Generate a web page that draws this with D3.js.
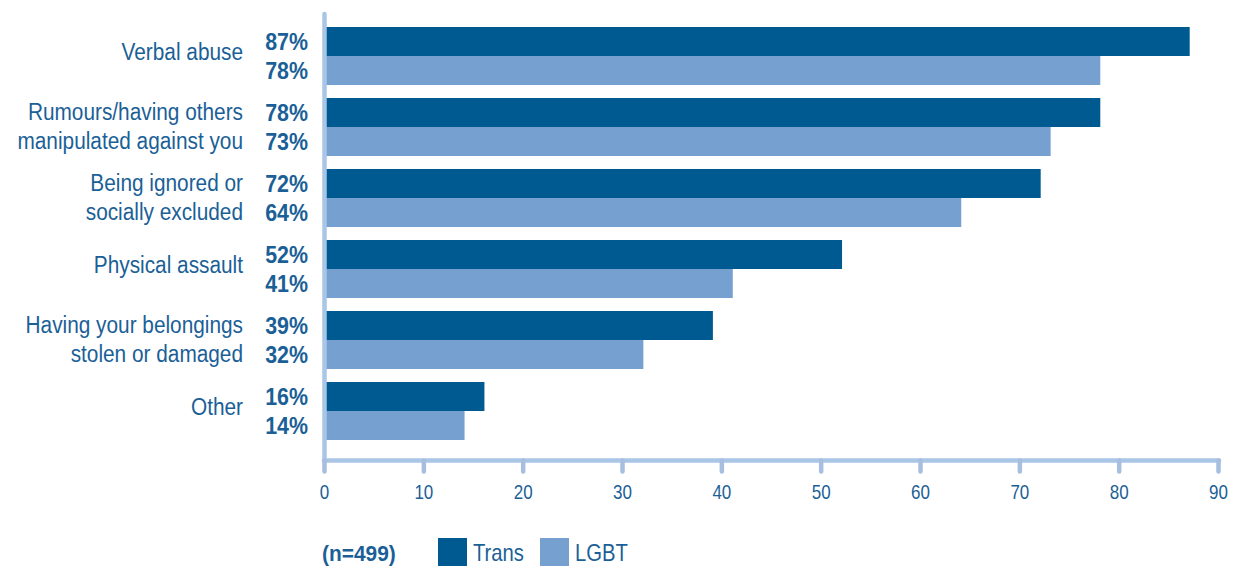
<!DOCTYPE html>
<html><head><meta charset="utf-8">
<script src="https://cdn.jsdelivr.net/npm/d3@7"></script>
<style>
body{margin:0;background:#fff;}
text{font-family:"Liberation Sans",Arial,sans-serif;}
</style></head>
<body><svg id="c" width="1235" height="566"></svg>
<script>
const categories = [["Verbal abuse"],["Rumours/having others","manipulated against you"],["Being ignored or","socially excluded"],["Physical assault"],["Having your belongings","stolen or damaged"],["Other"]];
const transValues = [87,78,72,52,39,16];
const lgbtValues = [78,73,64,41,32,14];
const seriesNames = ["Trans","LGBT"];
const tickValues = [0,10,20,30,40,50,60,70,80,90];
const sampleNote = "(n=499)";

const colTrans = "#005a92", colLgbt = "#75a0cf", textCol = "#1b5f97", axisCol = "#a9c6e6";
const svg = d3.select("#c");
const x = d3.scaleLinear().domain([0,90]).range([324,1218]);
const y = d3.scaleBand().domain(d3.range(categories.length)).range([20.5,446.5]).paddingInner(0.183).paddingOuter(0.0915);
const bh = y.bandwidth()/2;

function ctext(parent, px, py, str, size, sx, anchor, bold){
  return parent.append("text").attr("transform",`translate(${px},${py}) scale(${sx},1)`)
    .attr("dy","0.36em").attr("text-anchor",anchor).attr("font-size",size)
    .attr("font-weight",bold?"bold":"normal").attr("fill",textCol).text(str);
}

// bars
const g = svg.append("g");
categories.forEach((c,i)=>{
  g.append("rect").attr("x",x(0)+1.5).attr("y",y(i)).attr("width",x(transValues[i])-x(0)).attr("height",bh).attr("fill",colTrans);
  g.append("rect").attr("x",x(0)+1.5).attr("y",y(i)+bh).attr("width",x(lgbtValues[i])-x(0)).attr("height",bh).attr("fill",colLgbt);
  ctext(g,308,y(i)+bh/2,transValues[i]+"%",23.5,0.91,"end",true);
  ctext(g,308,y(i)+bh*1.5,lgbtValues[i]+"%",23.5,0.91,"end",true);
  const cy = y(i)+bh;
  const n = c.length;
  c.forEach((line,k)=>{
    const off = n===1 ? -4 : (k-0.5)*29 - 1;
    ctext(g,243,cy+off,line,23,0.905,"end",false);
  });
});

// axes
const ax = svg.append("g");
ax.append("line").attr("x1",324.5).attr("x2",324.5).attr("y1",14).attr("y2",461)
  .attr("stroke",axisCol).attr("stroke-width",4.5).attr("stroke-linecap","round");
ax.append("line").attr("x1",324).attr("x2",x(90)+1).attr("y1",460.5).attr("y2",460.5)
  .attr("stroke",axisCol).attr("stroke-width",4.5).attr("stroke-linecap","round");
const xAxis = d3.axisBottom(x).tickValues(tickValues).tickSize(0).tickPadding(0);
const xa = svg.append("g").attr("transform","translate(0,460.5)").call(xAxis);
xa.select(".domain").remove();
xa.selectAll(".tick").append("line").attr("x1",0).attr("x2",0).attr("y1",0).attr("y2",11)
  .attr("stroke","#a7bee1").attr("stroke-width",4.5).attr("stroke-linecap","round");
xa.selectAll(".tick text").attr("y",null).attr("transform","translate(0,31.5) scale(0.85,1)")
  .attr("dy","0.36em").attr("font-size",20).attr("fill",textCol)
  .attr("font-family",'"Liberation Sans",Arial,sans-serif');

// legend
const lg = svg.append("g");
ctext(lg,322,552.5,sampleNote,22.5,0.93,"start",true);
const legendItems = [{name:seriesNames[0],col:colTrans,x:438},{name:seriesNames[1],col:colLgbt,x:540}];
legendItems.forEach(d=>{
  lg.append("rect").attr("x",d.x).attr("y",538).attr("width",29).attr("height",29).attr("fill",d.col);
  ctext(lg,d.x+35,553,d.name,23,0.88,"start",false);
});
</script></body></html>
